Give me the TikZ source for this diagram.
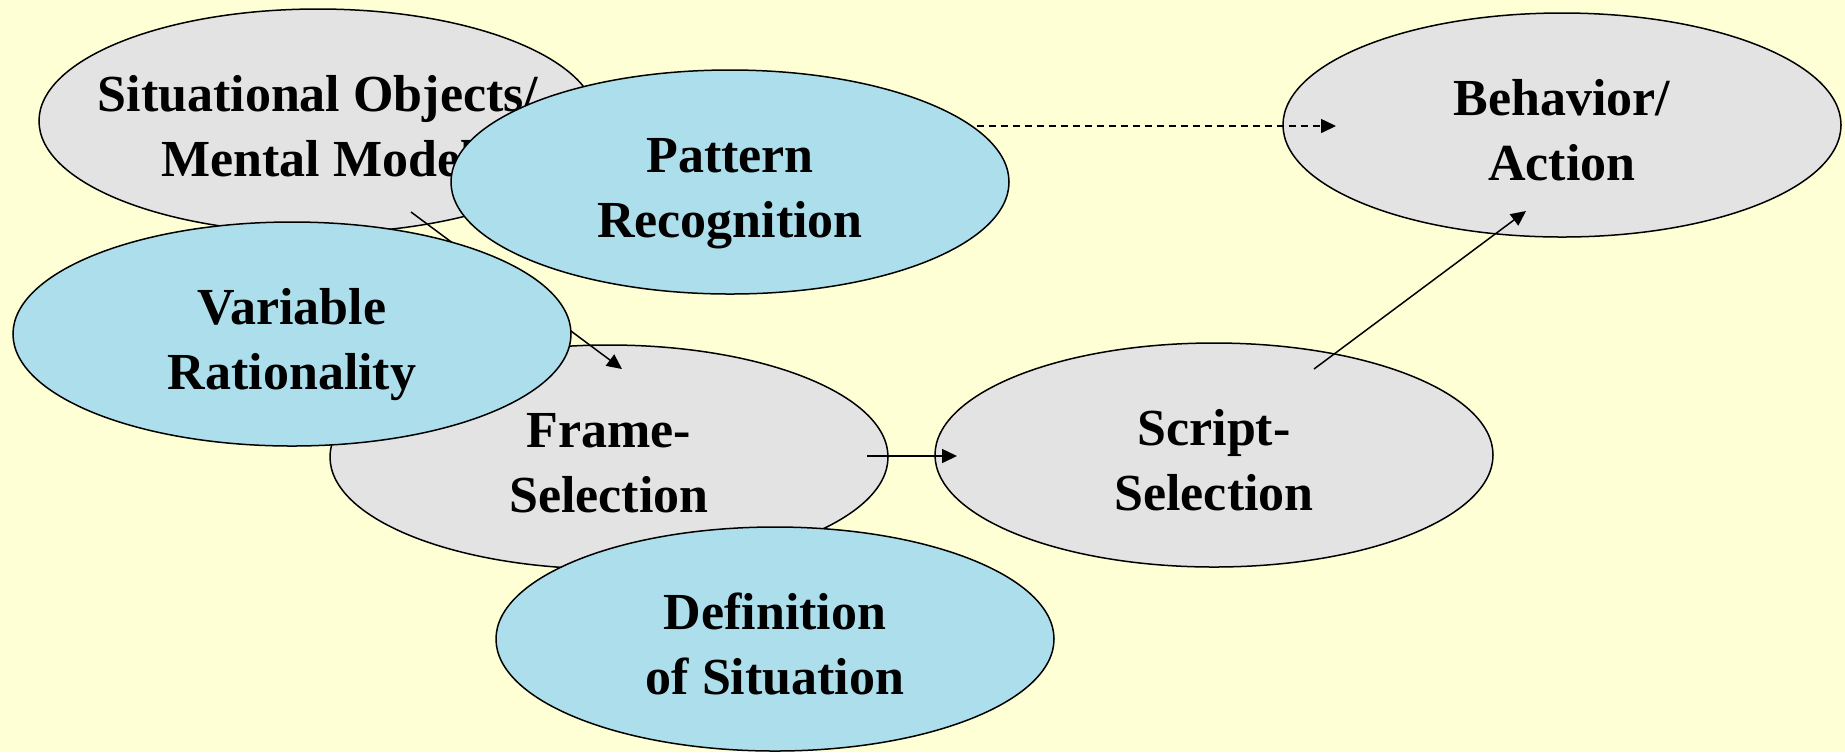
\documentclass[tikz,border=0pt]{standalone}
\usepackage{fontspec}
\setmainfont{Liberation Serif}
\usetikzlibrary{shapes.geometric,arrows.meta}
\definecolor{bgcream}{RGB}{255,255,214}
\definecolor{boxgrey}{RGB}{227,227,227}
\definecolor{boxblue}{RGB}{173,222,236}
\newcommand{\topstrut}{\rule{0pt}{28.7pt}}
\newcommand{\botstrut}{\rule[-6pt]{0pt}{6pt}}

\begin{document}
\begin{tikzpicture}[x=0.5pt,y=-0.5pt,
  stage/.style={ellipse,draw=black,line width=0.75pt,fill=boxgrey,
    minimum width=279pt,minimum height=112pt,inner xsep=-20pt,inner ysep=0pt,
    align=center,font=\fontsize{26}{32.5}\selectfont\bfseries},
  factor/.style={stage,fill=boxblue},
  link/.style={line width=0.75pt,-{Triangle[length=7.5pt,width=7pt]}}]

%背景
\fill[bgcream] (0,0) rectangle (1845,752);
\useasboundingbox (0,0) rectangle (1845,752);

%灰色的椭圆
\node[stage] (objects) at (318,121) {\topstrut Situational Objects/\\Mental Model\botstrut};
\node[stage] (frame) at (609,457) {\topstrut Frame-\\Selection\botstrut};
\node[stage] (script) at (1214,455) {\topstrut Script-\\Selection\botstrut};
\node[stage] (action) at (1562,125) {\topstrut Behavior/\\Action\botstrut};

%箭头的端点
\coordinate (objout) at (411,212);
\coordinate (framein) at (622,369);
\coordinate (patout) at (977,126);
\coordinate (actin) at (1336,126);
\coordinate (frameout) at (867,456);
\coordinate (scriptin) at (957,456);
\coordinate (scriptout) at (1314,369);
\coordinate (actin2) at (1526,211);

%箭头
\draw[link] (objout) -- (framein);
\draw[link,dash pattern=on 3.5pt off 2.5pt] (patout) -- (actin);
\draw[link] (frameout) -- (scriptin);
\draw[link] (scriptout) -- (actin2);

%蓝色的椭圆盖在上面
\node[factor] (pattern) at (730,182) {\topstrut Pattern\\Recognition\botstrut};
\node[factor] (rational) at (292,334) {\topstrut Variable\\Rationality\botstrut};
\node[factor] (definition) at (775,639) {\topstrut Definition\\of Situation\botstrut};

\end{tikzpicture}
\end{document}
